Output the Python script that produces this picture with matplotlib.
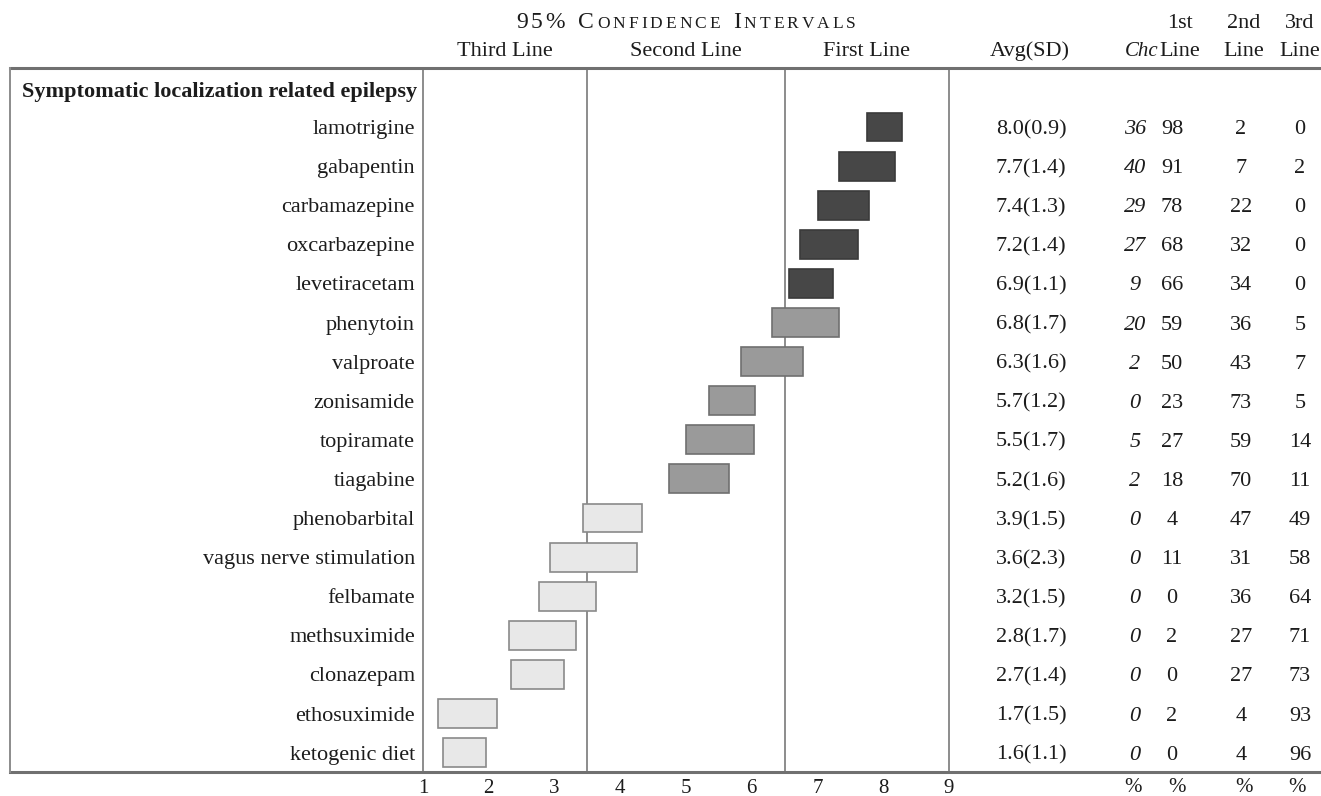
import matplotlib
matplotlib.use("Agg")
import matplotlib.pyplot as plt
from matplotlib.lines import Line2D
from matplotlib.transforms import blended_transform_factory

# ---------------- data ----------------
group_title = "Symptomatic localization related epilepsy"
treatments = ["lamotrigine", "gabapentin", "carbamazepine", "oxcarbazepine",
              "levetiracetam", "phenytoin", "valproate", "zonisamide",
              "topiramate", "tiagabine", "phenobarbital",
              "vagus nerve stimulation", "felbamate", "methsuximide",
              "clonazepam", "ethosuximide", "ketogenic diet"]
ci_low = [7.75, 7.33, 7.00, 6.74, 6.57, 6.31, 5.84, 5.35, 5.00, 4.74,
          3.43, 2.93, 2.76, 2.31, 2.34, 1.23, 1.30]
ci_high = [8.29, 8.18, 7.78, 7.61, 7.24, 7.33, 6.78, 6.05, 6.03, 5.65,
           4.33, 4.25, 3.63, 3.33, 3.14, 2.13, 1.96]
avg = [8.0, 7.7, 7.4, 7.2, 6.9, 6.8, 6.3, 5.7, 5.5, 5.2,
       3.9, 3.6, 3.2, 2.8, 2.7, 1.7, 1.6]
sd = [0.9, 1.4, 1.3, 1.4, 1.1, 1.7, 1.6, 1.2, 1.7, 1.6,
      1.5, 2.3, 1.5, 1.7, 1.4, 1.5, 1.1]
chc = [36, 40, 29, 27, 9, 20, 2, 0, 5, 2, 0, 0, 0, 0, 0, 0, 0]
pct_first = [98, 91, 78, 68, 66, 59, 50, 23, 27, 18, 4, 11, 0, 2, 0, 2, 0]
pct_second = [2, 7, 22, 32, 34, 36, 43, 73, 59, 70, 47, 31, 36, 27, 27, 4, 4]
pct_third = [0, 2, 0, 0, 0, 5, 7, 5, 14, 11, 49, 58, 64, 71, 73, 93, 96]

zone_edges = [3.5, 6.5]
zone_names = ["Third Line", "Second Line", "First Line"]
x_ticks = list(range(1, 10))

# ---------------- styling ----------------
plt.rcParams["font.family"] = ["Liberation Serif", "DejaVu Serif"]
TXT = "#1c1c1c"
RULE = "#8c8c8c"
FS = 16

W, H = 1321, 796
fig = plt.figure(figsize=(W / 100, H / 100), dpi=100)
fig.patch.set_facecolor("white")


def fx(px):
    return px / W


def fy(py):
    return 1 - py / H


TOP, BOTTOM = 68, 772
X1, X9 = 423, 949
ROW0, ROW_STEP = 127, 39.1

ax = fig.add_axes([fx(X1), fy(BOTTOM), fx(X9) - fx(X1), fy(TOP) - fy(BOTTOM)])
ax.set_xlim(1, 9)
ax.set_ylim((BOTTOM - ROW0) / ROW_STEP, (TOP - ROW0) / ROW_STEP)
ax.set_facecolor("none")

# confidence interval boxes, shaded by the zone the lower bound falls in
for i, (lo, hi) in enumerate(zip(ci_low, ci_high)):
    if lo >= zone_edges[1]:
        fc, ec = "#474747", "#3a3a3a"
    elif lo >= zone_edges[0]:
        fc, ec = "#9a9a9a", "#6f6f6f"
    else:
        fc, ec = "#e8e8e8", "#8a8a8a"
    ax.barh(i, hi - lo, left=lo, height=0.74, color=fc, edgecolor=ec,
            linewidth=1.2, zorder=3)

for xe in zone_edges:
    ax.axvline(xe, color=RULE, lw=1.4, zorder=1)

for side in ("top", "bottom"):
    ax.spines[side].set_visible(False)
for side in ("left", "right"):
    ax.spines[side].set_color(RULE)
    ax.spines[side].set_linewidth(1.4)

ax.set_xticks(x_ticks)
ax.set_xticklabels([str(t) for t in x_ticks])
ax.tick_params(axis="x", length=0, pad=5, labelsize=15, labelcolor=TXT)
ax.set_yticks([])

# table rules
fig.add_artist(Line2D([fx(10), fx(W)], [fy(TOP), fy(TOP)], color="#707070", lw=2.2))
fig.add_artist(Line2D([fx(10), fx(W)], [fy(BOTTOM), fy(BOTTOM)], color="#707070", lw=2.2))
fig.add_artist(Line2D([fx(10), fx(10)], [fy(TOP), fy(BOTTOM)], color=RULE, lw=1.4))

# row texts
trans = blended_transform_factory(fig.transFigure, ax.transData)
kw = dict(transform=trans, va="center_baseline", fontsize=FS, color=TXT)
ax.text(fx(22), (90 - ROW0) / ROW_STEP, group_title, ha="left",
        fontweight="bold", **kw)
for i, name in enumerate(treatments):
    ax.text(fx(415), i, name, ha="right", **kw)
    ax.text(fx(1031), i, f"{avg[i]:.1f}({sd[i]:.1f})", ha="center", **kw)
    ax.text(fx(1135), i, str(chc[i]), ha="center", style="italic", **kw)
    ax.text(fx(1172), i, str(pct_first[i]), ha="center", **kw)
    ax.text(fx(1241), i, str(pct_second[i]), ha="center", **kw)
    ax.text(fx(1300), i, str(pct_third[i]), ha="center", **kw)

# column headings
hkw = dict(va="baseline", ha="center", fontsize=FS, color=TXT)
zone_centers = [(1 + zone_edges[0]) / 2, sum(zone_edges) / 2, (zone_edges[1] + 9) / 2]
htrans = blended_transform_factory(ax.transData, fig.transFigure)
for xc, name in zip(zone_centers, zone_names):
    ax.text(xc, fy(56), name, transform=htrans, **hkw)
fig.text(fx(1030), fy(56), "Avg(SD)", **hkw)
fig.text(fx(1142), fy(56), "Chc", style="italic", va="baseline", ha="center",
         fontsize=15, color=TXT)
for xc, top_word in zip([1180, 1244, 1300], ["1st", "2nd", "3rd"]):
    fig.text(fx(xc), fy(28), top_word, **hkw)
    fig.text(fx(xc), fy(56), "Line", **hkw)
for xc in [1133, 1177, 1244, 1297]:
    fig.text(fx(xc), fy(792), "%", ha="center", va="baseline",
             fontsize=15, color=TXT)

# small-caps, letter-spaced heading over the interval panel
title_chars = ([(c, 17) for c in "95% C"] + [(c, 12.5) for c in "ONFIDENCE"]
               + [(" ", 17), ("I", 17)] + [(c, 12.5) for c in "NTERVALS"])
tracking = 3.0
space_w = 7.0
renderer = fig.canvas.get_renderer()
pieces = []
for ch, size in title_chars:
    if ch == " ":
        pieces.append((None, space_w))
        continue
    t = fig.text(0, fy(28), ch, fontsize=size, color=TXT, va="baseline", ha="left")
    pieces.append((t, t.get_window_extent(renderer).width))
total = sum(w for _, w in pieces) + tracking * (len(pieces) - 1)
x = (X1 + X9) / 2 - total / 2
for t, w in pieces:
    if t is not None:
        t.set_x(fx(x))
    x += w + tracking

fig.savefig("out.png", dpi=100, facecolor="white")
